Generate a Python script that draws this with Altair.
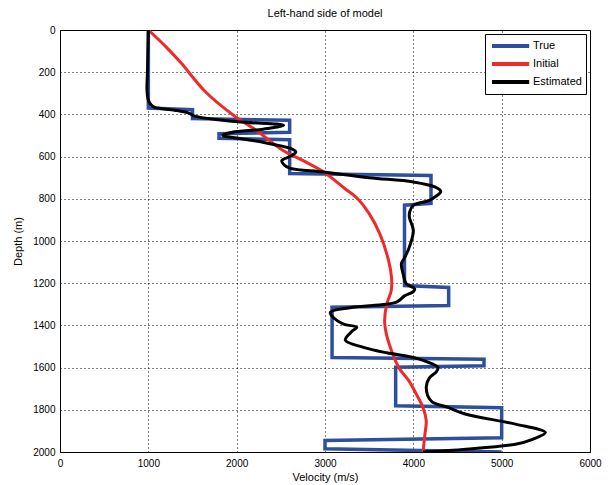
import altair as alt
import pandas as pd

# True model (step profile): depth (m), velocity (m/s)
true_depth = [0, 370, 378, 420, 428, 485, 492, 513, 520, 680, 690, 822, 830, 1211, 1220, 1306, 1314,
              1552, 1560, 1591, 1598, 1781, 1790, 1932, 1945, 1985, 2000]
true_vel = [1000, 1000, 1500, 1500, 2600, 2600, 1800, 1800, 2600, 2600, 4200, 4200, 3900, 3900, 4400, 4400, 3080,
            3080, 4800, 4800, 3800, 3800, 5000, 5000, 3000, 3000, 5000]

# Initial model
init_depth = [0, 80, 158, 290, 412, 475, 570, 625, 673, 750, 800, 870, 966, 1093, 1172, 1235, 1298, 1380,
              1450, 1520, 1570, 1607, 1663, 1726, 1790, 1850, 1920, 2000]
init_vel = [1000, 1200, 1374, 1640, 1990, 2220, 2520, 2780, 2985, 3220, 3370, 3500, 3621, 3720, 3753, 3750, 3700,
            3675, 3700, 3753, 3800, 3846, 3950, 4034, 4110, 4146, 4130, 4110]

# Estimated model
est_depth = [0, 100, 200, 285, 333, 356, 367, 380, 393, 408, 435, 451, 470, 485, 499, 515, 530, 561, 578, 600,
             620, 640, 656, 673, 700, 720, 745, 765, 790, 808, 831, 860, 887, 950, 1029, 1080, 1108, 1155, 1203,
             1227, 1240, 1260, 1290, 1315, 1338, 1365, 1394, 1409, 1430, 1470, 1504, 1530, 1552, 1580, 1600, 1620,
             1650, 1694, 1758, 1790, 1821, 1868, 1908, 1940, 1963, 1987, 2000]
est_vel = [1000, 995, 990, 985, 1000, 1034, 1075, 1300, 1450, 1525, 2011, 2530, 2300, 1950, 1843, 2050, 2270, 2607,
           2670, 2600, 2510, 2540, 2610, 2985, 3500, 4000, 4250, 4310, 4250, 4180, 4000, 3960, 3955, 4000, 3955,
           3900, 3865, 3884, 3921, 4015, 4000, 3900, 3809, 3300, 3060, 3100, 3210, 3360, 3300, 3230, 3435, 3700,
           4000, 4200, 4280, 4260, 4180, 4146, 4202, 4400, 4596, 5157, 5494, 5350, 5157, 4596, 4110]

x_ticks = [0, 1000, 2000, 3000, 4000, 5000, 6000]
y_ticks = list(range(0, 2001, 200))

series_names = ["True", "Initial", "Estimated"]
series_colors = ["#2d4f9e", "#ee2a2a", "#000000"]

def frame(name, depth, vel):
    return pd.DataFrame({"series": name, "depth": depth, "vel": vel, "idx": list(range(len(depth)))})

df_true = frame("True", true_depth, true_vel)
df_init = frame("Initial", init_depth, init_vel)
df_est = frame("Estimated", est_depth, est_vel)

FONT = "Liberation Sans"

color = alt.Color(
    "series:N",
    scale=alt.Scale(domain=series_names, range=series_colors),
    legend=alt.Legend(
        title=None, orient="none", legendX=425, legendY=4,
        symbolType="M-1,0H5.2", symbolSize=144, symbolStrokeWidth=4,
        labelFontSize=11, labelFont=FONT, labelColor="black",
        strokeColor="black", fillColor="white", padding=4, rowPadding=2,
        labelOffset=27, symbolOffset=1,
    ),
)

x = alt.X("vel:Q", title="Velocity (m/s)",
          scale=alt.Scale(domain=[0, 6000], nice=False, zero=False),
          axis=alt.Axis(values=x_ticks, format="d", labelFlush=False, labelPadding=6, titlePadding=3))
y = alt.Y("depth:Q", title="Depth (m)",
          scale=alt.Scale(domain=[0, 2000], reverse=True, nice=False),
          axis=alt.Axis(values=y_ticks, format="d", labelFlush=False, labelPadding=5, titlePadding=9))

def layer(df, width, interp):
    return alt.Chart(df).mark_line(strokeWidth=width, interpolate=interp, clip=True).encode(
        x=x, y=y, color=color, order=alt.Order("idx:Q"))

chart = alt.layer(
    layer(df_true, 3.5, "linear"),
    layer(df_init, 3, "catmull-rom"),
    layer(df_est, 3, "catmull-rom"),
).properties(
    width=530, height=422,
    title=alt.TitleParams("Left-hand side of model", font=FONT, fontSize=11, fontWeight="normal",
                          color="black", offset=6),
    autosize=alt.AutoSizeParams(type="none"),
    padding={"left": 52, "top": 22, "right": 13, "bottom": 34},
).configure_view(
    stroke="black", strokeWidth=1,
).configure_axis(
    grid=True, gridColor="black", gridDash=[1, 3], gridWidth=1, gridOpacity=1,
    domain=False, ticks=False,
    labelFont=FONT, labelFontSize=10, labelColor="black",
    titleFont=FONT, titleFontSize=11, titleFontWeight="normal", titleColor="black",
)

chart.save("out.html", embed_options={"renderer": "svg", "actions": False})
